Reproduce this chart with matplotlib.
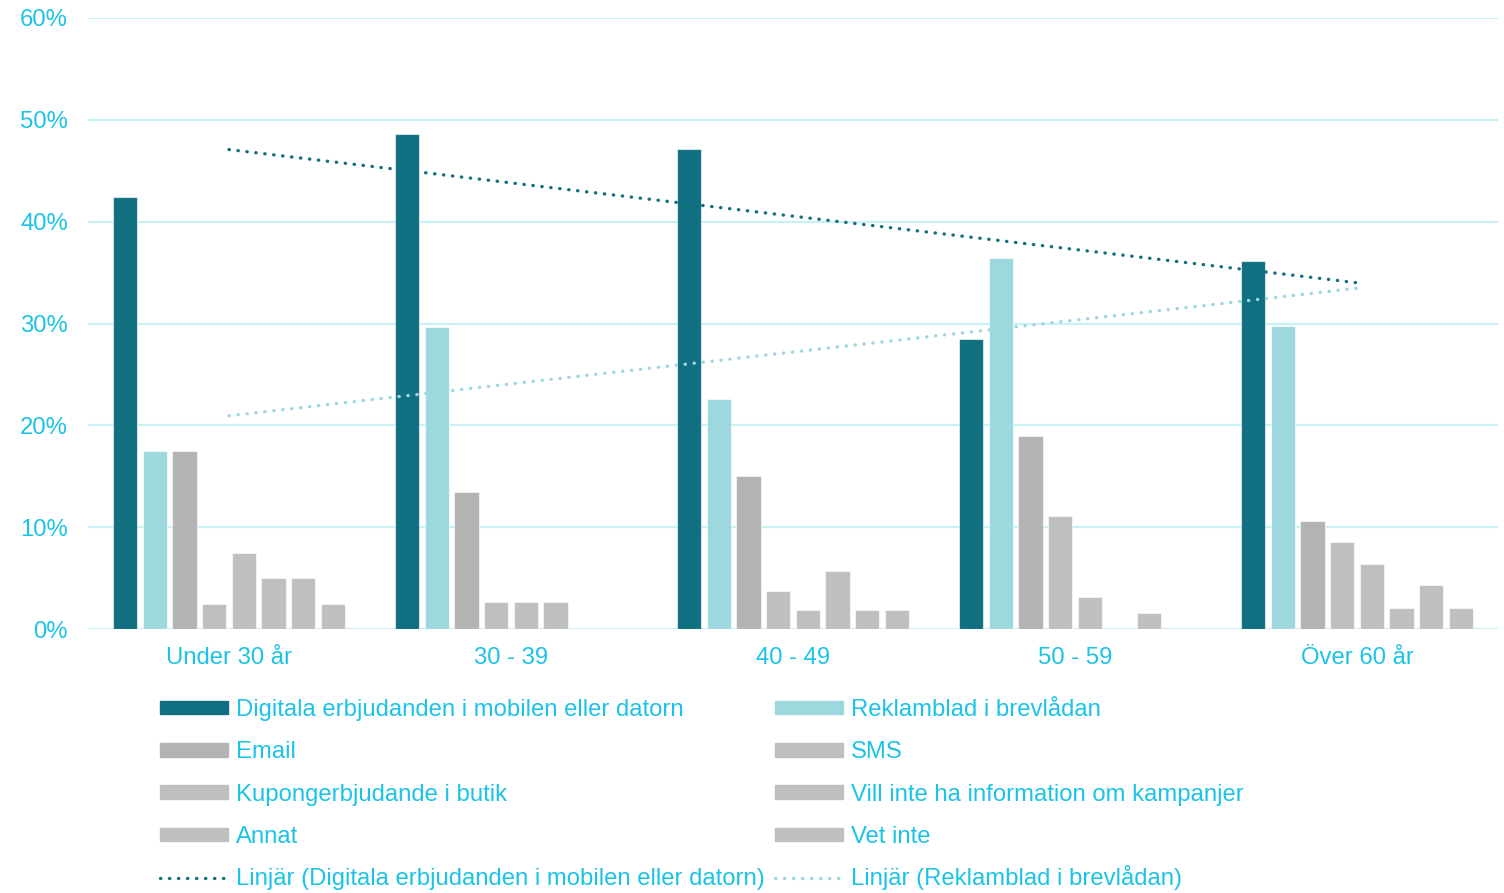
import numpy as np
import matplotlib
matplotlib.use("Agg")
import matplotlib.pyplot as plt
from matplotlib.patches import Patch
from matplotlib.lines import Line2D

plt.rcParams['font.family'] = ['Liberation Sans', 'DejaVu Sans']

# data (percent)
aldersgrupper = ['Under 30 år', '30 - 39', '40 - 49', '50 - 59', 'Över 60 år']
serier = ['Digitala erbjudanden i mobilen eller datorn', 'Reklamblad i brevlådan', 'Email', 'SMS',
          'Kupongerbjudande i butik', 'Vill inte ha information om kampanjer', 'Annat', 'Vet inte']
digitala = [42.4, 48.6, 47.1, 28.5, 36.1]
reklamblad = [17.5, 29.7, 22.6, 36.4, 29.8]
email = [17.5, 13.5, 15.0, 19.0, 10.6]
sms = [2.5, 2.7, 3.7, 11.1, 8.5]
kupong = [7.5, 2.7, 1.9, 3.1, 6.4]
vill_inte = [5.0, 2.7, 5.7, 0.0, 2.1]
annat = [5.0, 0.0, 1.9, 1.6, 4.3]
vet_inte = [2.5, 0.0, 1.9, 0.0, 2.1]

varden = [digitala, reklamblad, email, sms, kupong, vill_inte, annat, vet_inte]
farger = ['#106f80', '#9ed8df', '#b3b3b3', '#bfbfbf', '#bfbfbf', '#bfbfbf', '#bfbfbf', '#bfbfbf']
textfarg = '#1cc3e6'
gridfarg = '#c8f0f7'
fs = 17.2

W, H = 1504, 893
fig = plt.figure(figsize=(W / 100, H / 100), dpi=100)
ax = fig.add_axes([88 / W, 1 - 629 / H, 1410 / W, 611 / H])

x = np.arange(len(aldersgrupper))
steg = 0.1053
for i, (v, c) in enumerate(zip(varden, farger)):
    ax.bar(x + (i - 3.5) * steg, np.array(v) / 100, width=steg * 0.82, color=c,
           edgecolor=(1, 1, 1, 0.6), linewidth=0.8, zorder=3)

# linjära trendlinjer
prickar = (0, (0.1, 2.6))
for v, c in [(digitala, '#106f80'), (reklamblad, '#9ed8df')]:
    k, m = np.polyfit(x, v, 1)
    ax.plot(x, (k * x + m) / 100, color=c, lw=2.4, linestyle=prickar,
            dash_capstyle='round', zorder=4)

ax.set_xlim(-0.5, 4.5)
ax.set_ylim(0, 0.6)
ax.set_yticks(np.arange(0, 0.61, 0.1))
ax.set_yticklabels([f'{int(t)}%' for t in np.arange(0, 61, 10)])
ax.set_xticks(x)
ax.set_xticklabels(aldersgrupper)
ax.tick_params(length=0, labelsize=fs, colors=textfarg)
ax.tick_params(axis='y', pad=14.5)
ax.tick_params(axis='x', pad=13)
ax.grid(axis='y', color=gridfarg, lw=1.5, zorder=0)
for s in ax.spines.values():
    s.set_visible(False)

handtag = [Patch(color=c) for c in farger] + [
    Line2D([], [], color='#106f80', lw=2.4, linestyle=prickar, dash_capstyle='round'),
    Line2D([], [], color='#9ed8df', lw=2.4, linestyle=prickar, dash_capstyle='round')]
etiketter = serier + ['Linjär (Digitala erbjudanden i mobilen eller datorn)', 'Linjär (Reklamblad i brevlådan)']
ordning = [0, 2, 4, 6, 8, 1, 3, 5, 7, 9]
leg = fig.legend([handtag[i] for i in ordning], [etiketter[i] for i in ordning],
                 ncol=2, loc='upper left', bbox_to_anchor=(160 / W, 1 - 699 / H),
                 frameon=False, fontsize=fs, handlelength=2.85, handleheight=0.5,
                 handletextpad=0.33, columnspacing=0.42, labelspacing=0.85, borderpad=0,
                 borderaxespad=0)
for t in leg.get_texts():
    t.set_color(textfarg)

# sista raden i högra kolumnen hamnar lite lågt (å gör texten högre), lyft den
lyft = 3
leg.get_texts()[-1].set_y(lyft)
sista = leg.legend_handles[-1]
sista.set_ydata(np.asarray(sista.get_ydata()) + lyft * 0.72)

fig.savefig('out.png', dpi=100)
